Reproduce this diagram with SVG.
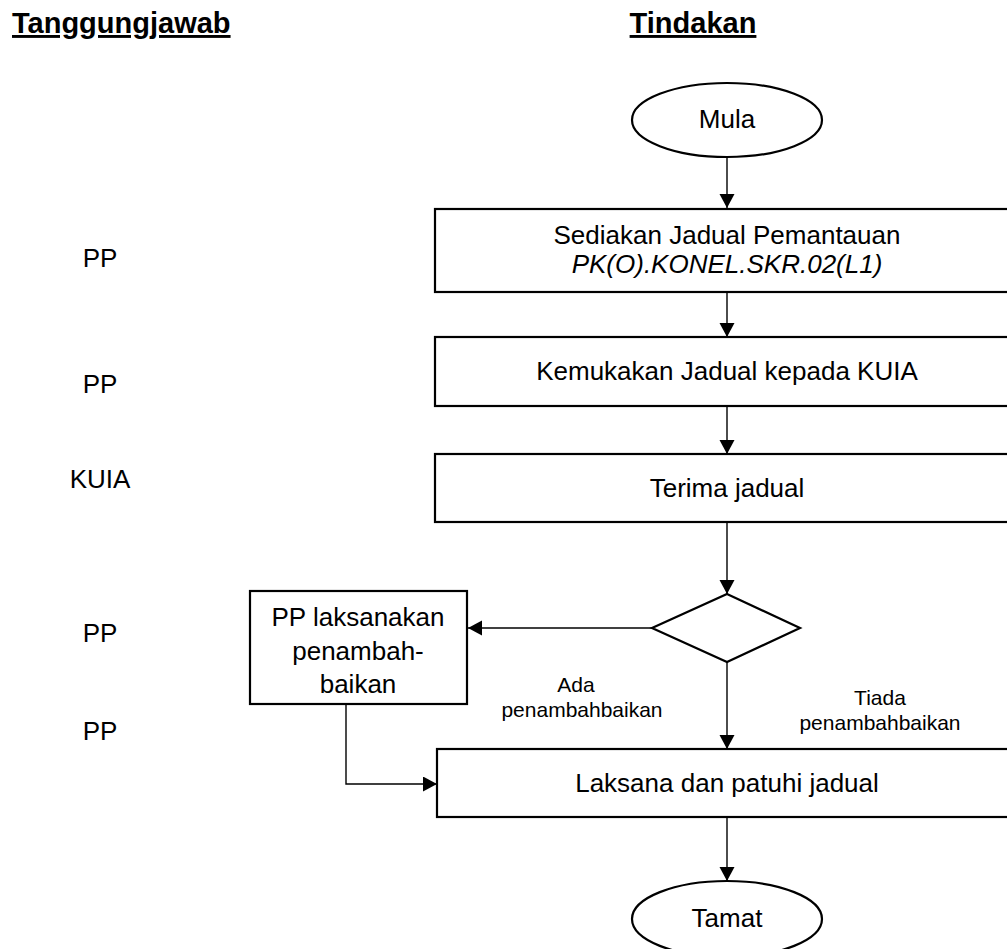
<svg xmlns="http://www.w3.org/2000/svg" width="1007" height="949" viewBox="0 0 1007 949">
<style>
  text { font-family: "Liberation Sans", Arial, sans-serif; fill: #000; }
  .hdr { font-size: 29px; font-weight: bold; text-decoration: underline; }
  .main { font-size: 26px; text-anchor: middle; }
  .lbl { font-size: 21px; text-anchor: middle; }
  .role { font-size: 26px; text-anchor: middle; }
  .shape { fill: #fff; stroke: #000; stroke-width: 2.2; }
  .conn { fill: none; stroke: #000; stroke-width: 1.4; }
</style>
<defs>
  <marker id="arr" markerUnits="userSpaceOnUse" markerWidth="15" markerHeight="16" refX="14" refY="7.5" orient="auto">
    <path d="M0,0 L14,7.5 L0,15 z" fill="#000"/>
  </marker>
</defs>
<rect width="1007" height="949" fill="#fff"/>

<g id="headers">
  <text class="hdr" x="12" y="33">Tanggungjawab</text>
  <text class="hdr" x="693" y="33" text-anchor="middle">Tindakan</text>
</g>

<g id="roles">
  <text class="role" x="100" y="267">PP</text>
  <text class="role" x="100" y="393">PP</text>
  <text class="role" x="100" y="488">KUIA</text>
  <text class="role" x="100" y="642">PP</text>
  <text class="role" x="100" y="740">PP</text>
</g>

<g id="connectors">
  <line class="conn" x1="727" y1="157" x2="727" y2="208" marker-end="url(#arr)"/>
  <line class="conn" x1="727" y1="292" x2="727" y2="337" marker-end="url(#arr)"/>
  <line class="conn" x1="727" y1="406" x2="727" y2="454" marker-end="url(#arr)"/>
  <line class="conn" x1="727" y1="522" x2="727" y2="594" marker-end="url(#arr)"/>
  <line class="conn" x1="652" y1="628" x2="468" y2="628" marker-end="url(#arr)"/>
  <line class="conn" x1="727" y1="662" x2="727" y2="749" marker-end="url(#arr)"/>
  <polyline class="conn" points="346,704 346,784 437,784" marker-end="url(#arr)"/>
  <line class="conn" x1="727" y1="817" x2="727" y2="881" marker-end="url(#arr)"/>
  <text class="lbl" x="576" y="692">Ada</text>
  <text class="lbl" x="582" y="717">penambahbaikan</text>
  <text class="lbl" x="880" y="705">Tiada</text>
  <text class="lbl" x="880" y="730">penambahbaikan</text>
</g>

<g id="mula">
  <ellipse class="shape" cx="727" cy="120" rx="95" ry="37"/>
  <text class="main" x="727" y="128">Mula</text>
</g>

<g id="sediakan">
  <rect class="shape" x="435" y="209" width="620" height="83"/>
  <text class="main" x="727" y="244">Sediakan Jadual Pemantauan</text>
  <text class="main" x="727" y="273" font-style="italic">PK(O).KONEL.SKR.02(L1)</text>
</g>

<g id="kemukakan">
  <rect class="shape" x="435" y="337" width="620" height="69"/>
  <text class="main" x="727" y="380">Kemukakan Jadual kepada KUIA</text>
</g>

<g id="terima">
  <rect class="shape" x="435" y="454" width="620" height="68"/>
  <text class="main" x="727" y="497">Terima jadual</text>
</g>

<g id="keputusan">
  <polygon class="shape" points="727,594 800,628 727,662 652,628"/>
</g>

<g id="penambahbaikan">
  <rect class="shape" x="250" y="591" width="217" height="113"/>
  <text class="main" x="358" y="626">PP laksanakan</text>
  <text class="main" x="358" y="660">penambah-</text>
  <text class="main" x="358" y="693">baikan</text>
</g>

<g id="laksana">
  <rect class="shape" x="437" y="749" width="620" height="68"/>
  <text class="main" x="727" y="792">Laksana dan patuhi jadual</text>
</g>

<g id="tamat">
  <ellipse class="shape" cx="727" cy="919" rx="95" ry="38"/>
  <text class="main" x="727" y="927">Tamat</text>
</g>
</svg>
